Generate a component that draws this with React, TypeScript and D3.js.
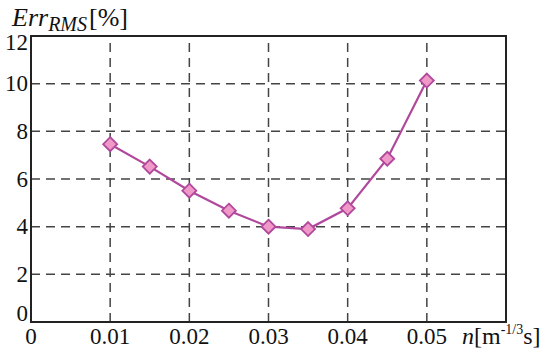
import React from "react";
import * as d3 from "d3";

const xValues = [0.01, 0.015, 0.02, 0.025, 0.03, 0.035, 0.04, 0.045, 0.05];
const errValues = [7.46, 6.52, 5.51, 4.67, 4.0, 3.9, 4.77, 6.85, 10.13];
const xTicks = [0, 0.01, 0.02, 0.03, 0.04, 0.05];
const xTickLabels = ["0", "0.01", "0.02", "0.03", "0.04", "0.05"];
const yTicks = [0, 2, 4, 6, 8, 10, 12];

const W = 547;
const H = 349;
const L = 31, R = 506, T = 36, B = 322;
const FONT = "Liberation Serif";
const LINE = "#b0489c";
const FILL = "#f098c8";
const GRID = "#444";

export default function App() {
  const x = d3.scaleLinear().domain([0, 0.06]).range([L, R]);
  const y = d3.scaleLinear().domain([0, 12]).range([B, T]);
  const line = d3
    .line<number>()
    .x((_, i) => x(xValues[i]))
    .y((d) => y(d));
  const pts = errValues.map((v, i) => [x(xValues[i]), y(v)] as [number, number]);
  const s = 7;
  const yLabelY = (t: number) => (t === 0 ? y(t) - 9 : t === 12 ? y(t) + 6 : y(t));
  return (
    <svg
      width={W}
      height={H}
      fontFamily={FONT}
      style={{ position: "absolute", left: 0, top: 0, background: "#fff", fontFamily: FONT }}
    >
      {yTicks
        .filter((t) => t > 0 && t < 12)
        .map((t) => (
          <line
            key={"gy" + t}
            x1={L}
            x2={R}
            y1={y(t)}
            y2={y(t)}
            stroke={GRID}
            strokeWidth={1.5}
            strokeDasharray="9,6"
          />
        ))}
      {xTicks
        .filter((t) => t > 0)
        .map((t) => (
          <line
            key={"gx" + t}
            x1={x(t)}
            x2={x(t)}
            y1={B}
            y2={T}
            stroke={GRID}
            strokeWidth={1.5}
            strokeDasharray="9,6"
          />
        ))}
      <rect x={L} y={T} width={R - L} height={B - T} fill="none" stroke="#222" strokeWidth={2} />
      <path d={line(errValues) || ""} fill="none" stroke={LINE} strokeWidth={2.2} />
      {pts.map(([px, py], i) => (
        <path
          key={"m" + i}
          d={`M${px},${py - s}L${px + s},${py}L${px},${py + s}L${px - s},${py}Z`}
          fill={FILL}
          stroke={LINE}
          strokeWidth={1.8}
        />
      ))}
      {yTicks.map((t) => (
        <text
          key={"yl" + t}
          x={L - 3}
          y={yLabelY(t)}
          textAnchor="end"
          dominantBaseline="central"
          fontSize={23}
          fill="#111"
          fontFamily={FONT}
        >
          {String(t)}
        </text>
      ))}
      {xTicks.map((t, i) => (
        <text
          key={"xl" + t}
          x={x(t)}
          y={344}
          textAnchor="middle"
          fontSize={23}
          fill="#111"
          fontFamily={FONT}
        >
          {xTickLabels[i]}
        </text>
      ))}
      <text x={12} y={26} fontSize={26} fill="#111" fontFamily={FONT}>
        <tspan fontStyle="italic">Err</tspan>
        <tspan fontStyle="italic" fontSize={20} dy={5}>RMS</tspan>
        <tspan dy={-5} dx={2}>[%]</tspan>
      </text>
      <text x={462} y={344} fontSize={24} fill="#111" fontFamily={FONT}>
        <tspan fontStyle="italic">n</tspan>
        <tspan>[m</tspan>
        <tspan fontSize={14} dy={-10}>-1/3</tspan>
        <tspan dy={10}>s]</tspan>
      </text>
    </svg>
  );
}
